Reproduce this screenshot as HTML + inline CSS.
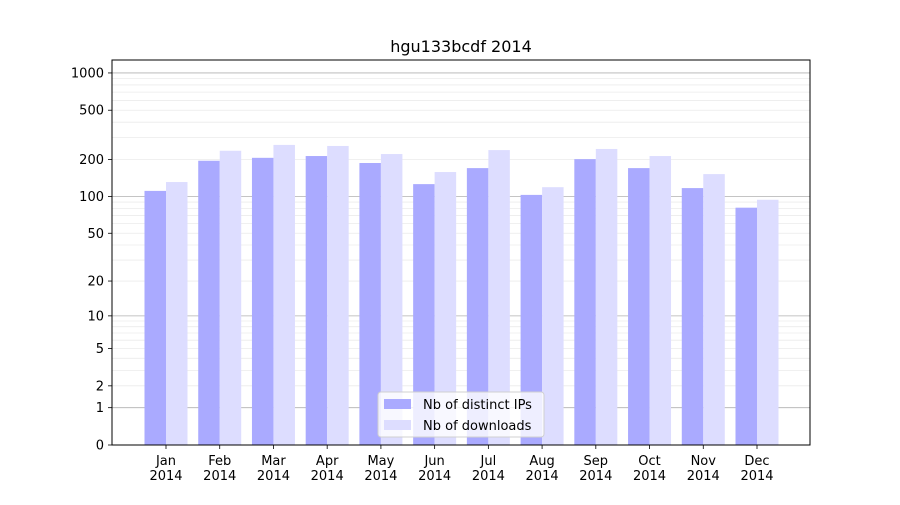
<!DOCTYPE html>
<html><head><meta charset="utf-8"><style>
body{margin:0;background:#fff}
svg text{font-family:"DejaVu Sans","Liberation Sans",sans-serif;fill:#000}
</style></head><body>
<svg id="c" width="900" height="500" xmlns="http://www.w3.org/2000/svg"></svg>
<script>
const categories=["Jan\n2014","Feb\n2014","Mar\n2014","Apr\n2014","May\n2014","Jun\n2014","Jul\n2014","Aug\n2014","Sep\n2014","Oct\n2014","Nov\n2014","Dec\n2014"];
const ips=[111,195,206,213,187,126,170,103,201,170,117,81];
const downloads=[131,235,262,257,221,158,238,119,243,213,152,94];
const yTicks=[0,1,2,5,10,20,50,100,200,500,1000];
const majorGrid=[1,10,100,1000];

const svg=document.getElementById('c');
const NS='http://www.w3.org/2000/svg';
const L=112,R=810,T=60,B=445;
function y(v){return B-124*Math.log10(1+v);}
function xc(i){return 166+i*(757-166)/11;}
function mk(tag,attrs,parent){const e=document.createElementNS(NS,tag);for(const k in attrs)e.setAttribute(k,attrs[k]);(parent||svg).appendChild(e);return e;}

// minor grid
const minor=[];
for(const d of [1,10,100]){for(let m=2;m<=9;m++)minor.push(m*d);}
minor.forEach(v=>{const l=mk('line',{x1:L,x2:R,y1:y(v),y2:y(v),stroke:'#ebebeb','stroke-width':0.8});

});
majorGrid.forEach(v=>{const l=mk('line',{x1:L,x2:R,y1:y(v),y2:y(v),stroke:'#b0b0b0','stroke-width':0.8});

});

// bars
const bw=21.5;
categories.forEach((c,i)=>{
 const b1=mk('rect',{x:xc(i)-bw,y:y(ips[i]),width:bw,height:B-y(ips[i]),fill:'#aaaaff'});
 
 
 const b2=mk('rect',{x:xc(i),y:y(downloads[i]),width:bw,height:B-y(downloads[i]),fill:'#ddddff'});
 
 
 mk('line',{x1:xc(i),x2:xc(i),y1:B,y2:B+4,stroke:'#000','stroke-width':0.8});
 const parts=c.split('\n');
 const t=mk('text',{x:xc(i),y:B+20,'text-anchor':'middle','font-size':13});
 
 
 t.textContent=parts[0];
 const t2=mk('text',{x:xc(i),y:B+35,'text-anchor':'middle','font-size':13});
 
 
 t2.textContent=parts[1];
});

// axes frame
const fr=mk('rect',{x:L,y:T,width:R-L,height:B-T,fill:'none',stroke:'#000','stroke-width':1});



yTicks.forEach(v=>{
 mk('line',{x1:L-4,x2:L,y1:y(v),y2:y(v),stroke:'#000','stroke-width':0.8});
 const t=mk('text',{x:L-8,y:y(v)+4.5,'text-anchor':'end','font-size':13});
 
 
 t.textContent=v;
});

const title=mk('text',{x:461,y:52,'text-anchor':'middle','font-size':16});


title.textContent='hgu133bcdf 2014';

// legend
const lg=mk('g',{});


mk('rect',{x:378,y:392,width:166,height:45,rx:3,fill:'rgba(255,255,255,0.8)',stroke:'#d0d0d0'},lg);
mk('rect',{x:384,y:399,width:27,height:10,fill:'#aaaaff'},lg);
mk('rect',{x:384,y:420,width:27,height:10,fill:'#ddddff'},lg);
const l1=mk('text',{x:423,y:409,'font-size':13},lg);


l1.textContent='Nb of distinct IPs';
const l2=mk('text',{x:423,y:430,'font-size':13},lg);


l2.textContent='Nb of downloads';
</script>
</body></html>
